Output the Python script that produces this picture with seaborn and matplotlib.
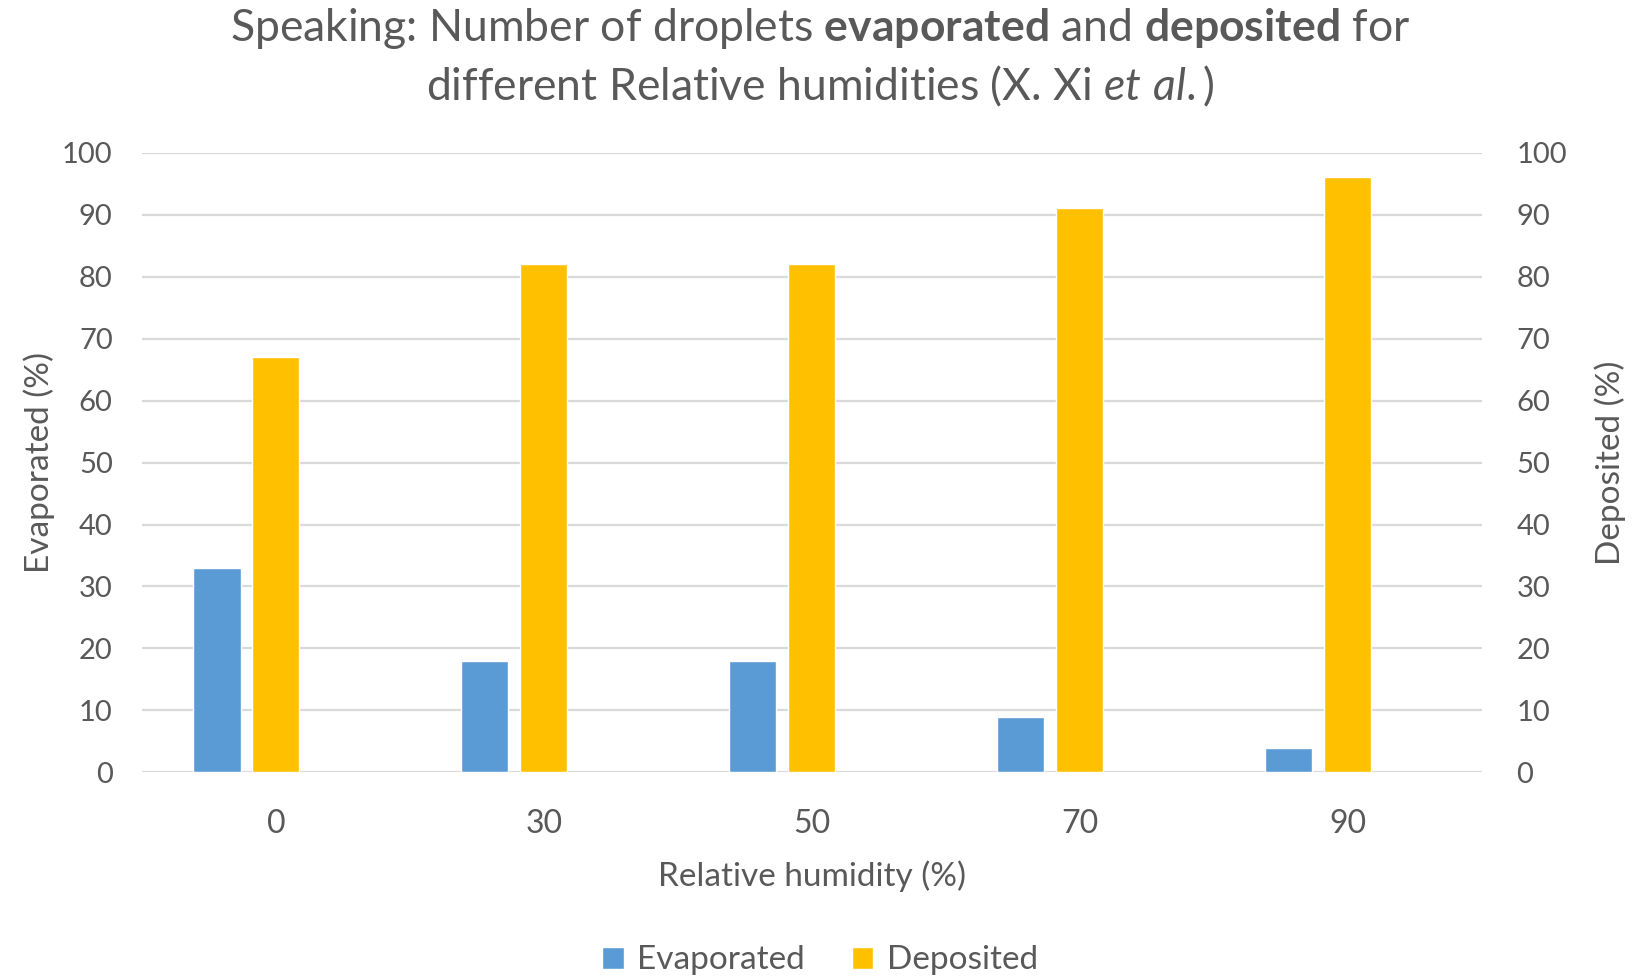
import matplotlib
matplotlib.use("Agg")
import matplotlib.pyplot as plt
import seaborn as sns
import pandas as pd
from matplotlib.patches import Patch

# Relative humidity categories and droplet fates (%)
humidity = ["0", "30", "50", "70", "90"]
evaporated = [33, 18, 18, 9, 4]
deposited = [67, 82, 82, 91, 96]
series_names = ["Evaporated", "Deposited"]
y_ticks = [0, 10, 20, 30, 40, 50, 60, 70, 80, 90, 100]

BLUE = "#5B9BD5"
GOLD = "#FFC000"
TEXT = "#595959"
GRID = "#D9D9D9"

sns.set_theme(style="white")
plt.rcParams["font.family"] = ["Lato", "DejaVu Sans"]
plt.rcParams["mathtext.fontset"] = "custom"
plt.rcParams["mathtext.rm"] = "Lato"
plt.rcParams["mathtext.bf"] = "Lato:bold"
plt.rcParams["mathtext.it"] = "Lato:italic"

df = pd.DataFrame({
    "Relative humidity": humidity * 2,
    "Value": evaporated + deposited,
    "Series": [series_names[0]] * len(humidity) + [series_names[1]] * len(humidity),
})

fig = plt.figure(figsize=(16.5, 9.76), dpi=100)
ax = fig.add_axes([0.086, 0.2086, 0.812, 0.635])

# a third, empty hue slot keeps the pair left of the category centre
hue_order = series_names + ["_spare"]
sns.barplot(
    data=df, x="Relative humidity", y="Value", hue="Series",
    order=humidity, hue_order=hue_order,
    palette={"Evaporated": BLUE, "Deposited": GOLD, "_spare": "white"},
    width=0.66, gap=0.2, saturation=1, errorbar=None,
    legend=False, ax=ax,
)

ax.set_ylim(0, 100)
ax.set_xlim(-0.5, len(humidity) - 0.5)
ax.set_yticks(y_ticks)
ax.yaxis.grid(True, color=GRID, linewidth=1.6)
ax.set_axisbelow(True)
for s in ax.spines.values():
    s.set_visible(False)
ax.tick_params(axis="both", length=0, colors=TEXT)
ax.tick_params(axis="y", pad=21, labelsize=21)
ax.tick_params(axis="x", pad=26, labelsize=23)
ax.set_xlabel("Relative humidity (%)", fontsize=24, color=TEXT, labelpad=16)
ax.set_ylabel("Evaporated (%)", fontsize=24, color=TEXT)
ax.yaxis.set_label_coords(-0.065, 0.5)

ax2 = ax.twinx()
ax2.set_ylim(0, 100)
ax2.set_yticks(y_ticks)
for s in ax2.spines.values():
    s.set_visible(False)
ax2.tick_params(axis="y", length=0, labelsize=21, colors=TEXT, pad=25)
ax2.set_ylabel("Deposited (%)", fontsize=24, color=TEXT)
ax2.yaxis.set_label_coords(1.084, 0.5)

fig.text(0.497, 0.971,
         r"Speaking: Number of droplets $\mathbf{evaporated}$ and $\mathbf{deposited}$ for",
         ha="center", va="center", fontsize=32, color=TEXT)
fig.text(0.497, 0.9115,
         r"different Relative humidities (X. Xi $\mathit{et\ al.}$)",
         ha="center", va="center", fontsize=32, color=TEXT)

handles = [Patch(facecolor=BLUE, label=series_names[0]),
           Patch(facecolor=GOLD, label=series_names[1])]
fig.legend(handles=handles, loc="center", bbox_to_anchor=(0.497, 0.016),
           ncol=2, frameon=False, fontsize=24, labelcolor=TEXT,
           handlelength=0.65, handleheight=0.65, handletextpad=0.4,
           columnspacing=1.4)

fig.savefig("out.png", dpi=100, facecolor="white")
